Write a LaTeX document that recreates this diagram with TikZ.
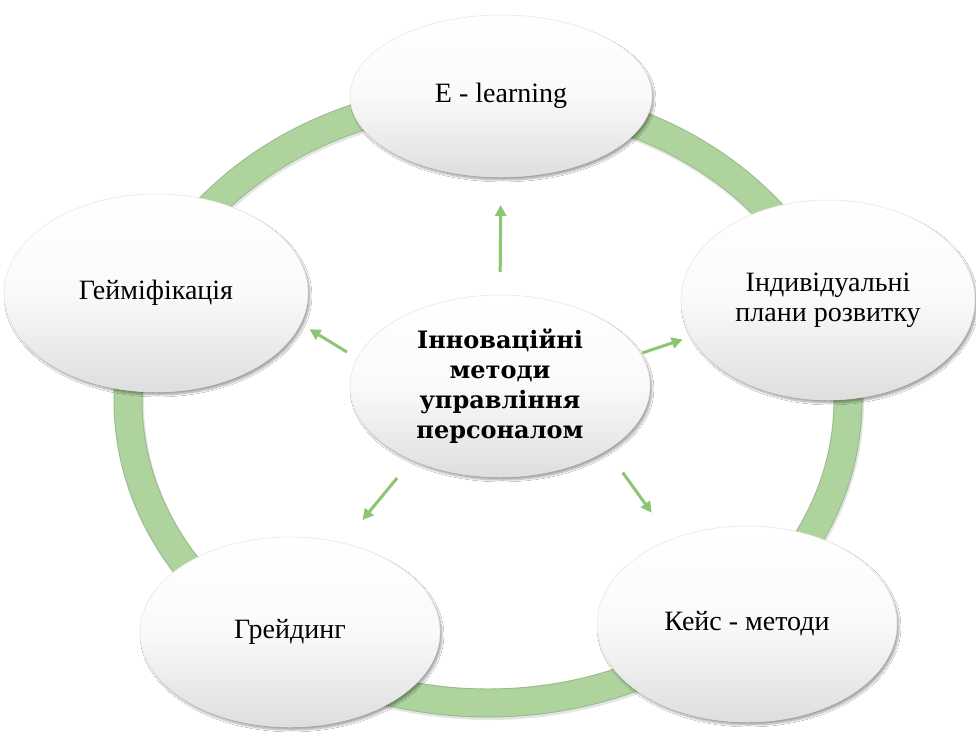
\documentclass[tikz,border=0pt]{standalone}
\usepackage{fontspec}
\setmainfont{Liberation Serif}
\newfontfamily\headfont{DejaVu Serif}
\usetikzlibrary{shapes.geometric,arrows.meta,shadows.blur}

\definecolor{ringgreen}{RGB}{174,211,156}
\definecolor{ringedge}{RGB}{152,188,136}
\definecolor{arrowgreen}{RGB}{141,198,114}

\begin{document}
\begin{tikzpicture}[x=1pt,y=-1pt,
  bubble/.style={ellipse, inner sep=0pt, outer sep=0pt, align=center,
    draw=black!10, line width=0.5pt,
    top color=white, bottom color=black!13, middle color=white!98!black,
    blur shadow={shadow xshift=2pt, shadow yshift=-3pt,
                 shadow blur steps=8, shadow opacity=35},
    font=\fontsize{28}{30}\selectfont},
  hub/.style={bubble, font=\headfont\bfseries\fontsize{24}{30}\selectfont},
  link/.style={draw=arrowgreen, line width=3pt,
    -{Triangle[length=11pt,width=11pt]}}]

\useasboundingbox (0,0) rectangle (976,736);
\fill[white] (0,0) rectangle (976,736);

% the green ring behind the bubbles
\draw[black, opacity=0.10, line width=30pt] (489,402) ellipse [x radius=360, y radius=303];
\draw[ringedge, line width=29pt] (488,400) ellipse [x radius=360, y radius=303];
\draw[ringgreen, line width=27pt] (488,400) ellipse [x radius=360, y radius=303];

% outer bubbles
\node[bubble, minimum width=302pt, minimum height=162pt] (elearn) at (501,96) {E - learning};
\node[bubble, minimum width=294pt, minimum height=200pt] (plans) at (828,300) {Індивідуальні\\плани розвитку};
\node[bubble, minimum width=300pt, minimum height=196pt] (cases) at (747,624) {Кейс - методи};
\node[bubble, minimum width=300pt, minimum height=190pt] (grade) at (290,632) {Грейдинг};
\node[bubble, minimum width=304pt, minimum height=198pt] (game) at (156,293) {Гейміфікація};

% central bubble
\node[hub, minimum width=300pt, minimum height=182pt] (hub) at (500,386)
  {Інноваційні\\методи\\управління\\персоналом};

% arrows from the centre outwards
\draw[link, shorten <=23pt, shorten >=28pt] (hub.90) -- (elearn.270);
\draw[link, shorten <=2pt, shorten >=9pt] (hub.13) -- (plans.195.3);
\draw[link, shorten <=27.6pt, shorten >=33pt] (hub.-31.3) -- (cases.132.9);
\draw[link, shorten <=23.5pt, shorten >=30pt] (hub.220) -- (grade.59.2);
\draw[link, shorten <=12pt, shorten >=10.5pt] (hub.169) -- (game.-12.4);
\end{tikzpicture}
\end{document}
